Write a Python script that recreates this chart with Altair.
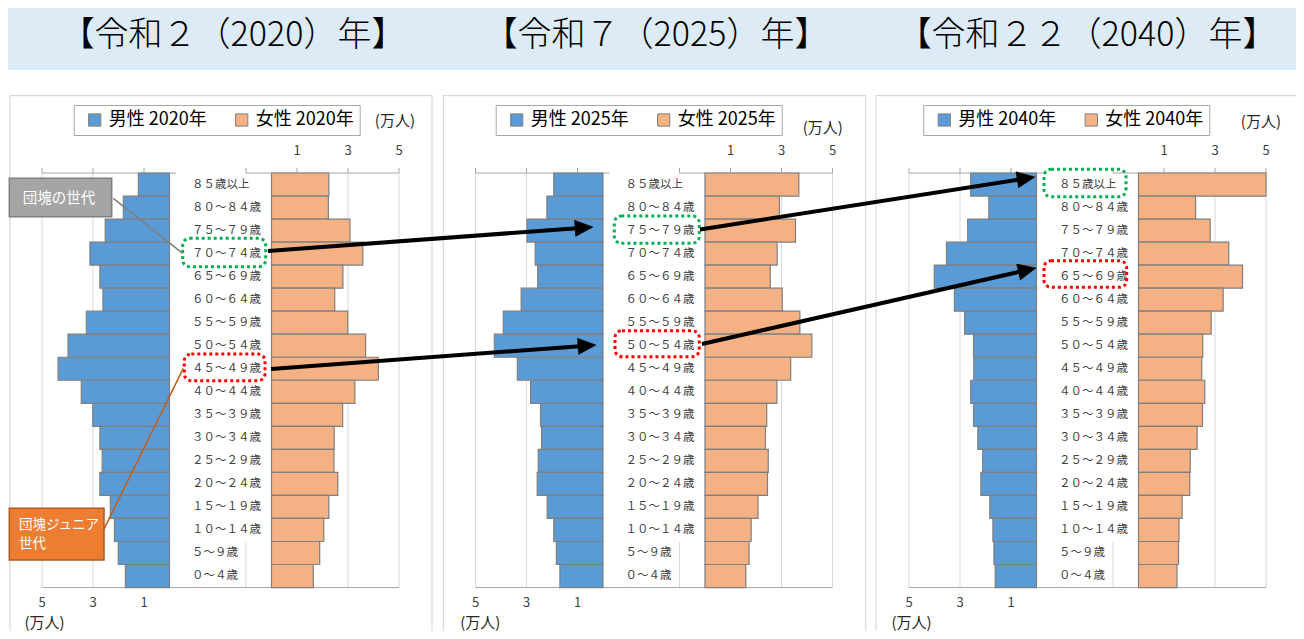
import altair as alt
import pandas as pd
import math

# ---------------- data (万人) ----------------
AGES = ["８５歳以上", "８０～８４歳", "７５～７９歳", "７０～７４歳", "６５～６９歳",
        "６０～６４歳", "５５～５９歳", "５０～５４歳", "４５～４９歳", "４０～４４歳",
        "３５～３９歳", "３０～３４歳", "２５～２９歳", "２０～２４歳", "１５～１９歳",
        "１０～１４歳", "５～９歳", "０～４歳"]
YEARS = ["2020", "2025", "2040"]
TITLES = ["【令和２（2020）年】", "【令和７（2025）年】", "【令和２２（2040）年】"]
MALE_2020 = [1.22, 1.81, 2.52, 3.12, 2.73, 2.61, 3.26, 3.98, 4.37, 3.46, 3.01, 2.73, 2.64, 2.73, 2.32, 2.16, 2.01, 1.73]
FEMALE_2020 = [2.25, 2.23, 3.08, 3.58, 2.80, 2.48, 2.99, 3.69, 4.19, 3.27, 2.79, 2.46, 2.45, 2.60, 2.25, 2.05, 1.89, 1.64]
MALE_2025 = [1.93, 2.20, 2.98, 2.66, 2.56, 3.21, 3.91, 4.26, 3.36, 2.84, 2.45, 2.41, 2.54, 2.58, 2.19, 1.93, 1.83, 1.69]
FEMALE_2025 = [3.68, 2.92, 3.55, 2.83, 2.56, 3.03, 3.72, 4.19, 3.36, 2.82, 2.42, 2.37, 2.48, 2.45, 2.08, 1.81, 1.73, 1.60]
MALE_2040 = [2.58, 1.87, 2.70, 3.53, 4.01, 3.22, 2.82, 2.47, 2.46, 2.58, 2.47, 2.30, 2.11, 2.18, 1.83, 1.71, 1.67, 1.62]
FEMALE_2040 = [5.00, 2.24, 2.81, 3.54, 4.08, 3.32, 2.85, 2.52, 2.48, 2.60, 2.51, 2.30, 2.03, 2.01, 1.71, 1.59, 1.57, 1.51]
MALES = [MALE_2020, MALE_2025, MALE_2040]
FEMALES = [FEMALE_2020, FEMALE_2025, FEMALE_2040]
TOP_TICK_LABELS = ["1", "3", "5"]
BOTTOM_TICK_LABELS = ["5", "3", "1"]

# ---------------- layout (scale space) ----------------
FONT = "Noto Sans CJK JP"
BLUE, ORANGE = "#5B9BD5", "#F4B183"
GAP = 4          # gap (units) between male zero and female zero
PANEL_STEP = 17  # units between panels
PX_PER_UNIT, ZERO_PX = 25.5, 169.5
ROW_PX, ROW0_PX = 23.03, 173.0
W, H = 1288, 623


def ux(px):
    return (px - ZERO_PX) / PX_PER_UNIT


def ry(py):
    return (py - ROW0_PX) / ROW_PX


XS = alt.Scale(domain=[ux(8), ux(8 + W)], nice=False, zero=False)
YS = alt.Scale(domain=[ry(8), ry(8 + H)], nice=False, zero=False, reverse=True)
NROW = len(AGES)


def enc_rect(ch, x="x0", x2="x1", y="y0", y2="y1"):
    return ch.encode(x=alt.X(f"{x}:Q", scale=XS, axis=None), x2=f"{x2}:Q",
                     y=alt.Y(f"{y}:Q", scale=YS, axis=None), y2=f"{y2}:Q")


def enc_pt(ch, x="x", y="y"):
    return ch.encode(x=alt.X(f"{x}:Q", scale=XS, axis=None),
                     y=alt.Y(f"{y}:Q", scale=YS, axis=None))


layers = []

# header band and titles
hdr = pd.DataFrame([{"x0": ux(8), "x1": ux(1300), "y0": ry(8), "y1": ry(70)}])
layers.append(enc_rect(alt.Chart(hdr).mark_rect(fill="#DDEBF7")))
title_x = [233, 656, 1087]
tdf = pd.DataFrame({"x": [ux(v) for v in title_x], "y": [ry(36)] * 3, "t": TITLES})
layers.append(enc_pt(alt.Chart(tdf).mark_text(font=FONT, fontSize=34, fontWeight=300, color="#000000",
                                               align="center", baseline="middle")).encode(text="t:N"))

# panel borders
pb = pd.DataFrame([{"x0": ux(a), "x1": ux(b), "y0": ry(95.7), "y1": ry(680)}
                   for a, b in [(10, 432), (443.3, 865.7), (876, 1297.3)]])
layers.append(enc_rect(alt.Chart(pb).mark_rect(fill="white", stroke="#D9D9D9", strokeWidth=1.2)))

# gridlines
grid = []
for p in range(3):
    off = p * PANEL_STEP
    for t in [-5, -3, -1, 1, 3, 5, 7, 9]:
        grid.append({"x0": off + t, "x1": off + t, "y0": 0, "y1": NROW})
layers.append(enc_rect(alt.Chart(pd.DataFrame(grid)).mark_rule(color="#D9D9D9", strokeWidth=1)))

# white label area
wb = []
for p in range(3):
    off = p * PANEL_STEP
    wb.append({"x0": off + 0.05, "x1": off + GAP - 0.05, "y0": -0.05, "y1": NROW - 2})
    wb.append({"x0": off + 0.05, "x1": off + 2.95, "y0": NROW - 2, "y1": NROW - 0.05})
layers.append(enc_rect(alt.Chart(pd.DataFrame(wb)).mark_rect(fill="white")))

# axis lines & ticks
ax = []
for p in range(3):
    off = p * PANEL_STEP
    ax.append({"x0": off - 5, "x1": off + 0.25, "y0": 0, "y1": 0})
    ax.append({"x0": off + 3, "x1": off + 9, "y0": 0, "y1": 0})
    ax.append({"x0": off - 5, "x1": off + 9, "y0": NROW, "y1": NROW})
    for t in [-5, -3, -1, 3, 5, 7, 9]:
        ax.append({"x0": off + t, "x1": off + t, "y0": -0.22, "y1": 0})
layers.append(enc_rect(alt.Chart(pd.DataFrame(ax)).mark_rule(color="#A6A6A6", strokeWidth=1)))

# bars, one layer per panel with its own legend
legend_pos = [(73.7, 105), (495.7, 105), (923.3, 105)]
for p in range(3):
    off = p * PANEL_STEP
    mlab, flab = f"男性 {YEARS[p]}年", f"女性 {YEARS[p]}年"
    rows = []
    for i, age in enumerate(AGES):
        rows.append({"age": age, "series": mlab, "v": MALES[p][i], "row": i})
        rows.append({"age": age, "series": flab, "v": FEMALES[p][i], "row": i})
    df = pd.DataFrame(rows)
    ch = alt.Chart(df).transform_calculate(
        x0=f"indexof(datum.series, '男性') === 0 ? {off} - datum.v : {off + GAP}",
        x1=f"indexof(datum.series, '男性') === 0 ? {off} : {off + GAP} + datum.v",
        y0="datum.row", y1="datum.row + 1",
    ).mark_rect(stroke="#7F7F7F", strokeWidth=1.2)
    ch = enc_rect(ch).encode(
        color=alt.Color("series:N",
                        scale=alt.Scale(domain=[mlab, flab], range=[BLUE, ORANGE]),
                        legend=alt.Legend(orient="none", legendX=legend_pos[p][0] - 8,
                                          legendY=legend_pos[p][1] - 8,
                                          direction="horizontal", title=None,
                                          symbolType="square", symbolSize=150,
                                          symbolStrokeColor="#7F7F7F", symbolStrokeWidth=1,
                                          labelFont=FONT, labelFontSize=18, labelColor="#000000",
                                          labelOffset=5, columnPadding=20, symbolOffset=6,
                                          strokeColor="#A6A6A6", fillColor="white", padding=6)))
    layers.append(ch)

# age labels
al = []
for p in range(3):
    off = p * PANEL_STEP
    for i, age in enumerate(AGES):
        al.append({"x": off + 0.88, "y": i + 0.5, "t": age})
layers.append(enc_pt(alt.Chart(pd.DataFrame(al)).mark_text(
    font=FONT, fontSize=11.5, color="#404040", align="left", baseline="middle")).encode(text="t:N"))

# tick labels
tl = []
for p in range(3):
    off = p * PANEL_STEP
    for t, lab in zip([5, 7, 9], TOP_TICK_LABELS):
        tl.append({"x": off + t, "y": ry(150.5), "t": lab})
    for t, lab in zip([-5, -3, -1], BOTTOM_TICK_LABELS):
        tl.append({"x": off + t, "y": ry(602.5), "t": lab})
layers.append(enc_pt(alt.Chart(pd.DataFrame(tl)).mark_text(
    font=FONT, fontSize=13, color="#404040", align="center", baseline="middle")).encode(text="t:N"))

# unit labels
ul = []
for p, (tx, ty, bx, by) in enumerate([(8.84, 121, -4.9, 623), (8.62, 128, -4.81, 623), (8.8, 122, -4.9, 623)]):
    off = p * PANEL_STEP
    ul.append({"x": off + tx, "y": ry(ty), "t": "(万人)"})
    ul.append({"x": off + bx, "y": ry(by), "t": "(万人)"})
layers.append(enc_pt(alt.Chart(pd.DataFrame(ul)).mark_text(
    font=FONT, fontSize=15, color="#262626", align="center", baseline="middle")).encode(text="t:N"))

# dotted highlight boxes
boxes_g = [(182.7, 265.7, 238.3, 266.7), (614.3, 699.3, 216, 243.3), (1044, 1126, 169.3, 196.7)]
boxes_r = [(184.3, 265, 354, 380.7), (615, 699.3, 330.7, 356.7), (1044, 1126.7, 260.7, 287.3)]
for boxes, col in [(boxes_g, "#00B050"), (boxes_r, "#FF0000")]:
    bdf = pd.DataFrame([{"x0": ux(a), "x1": ux(b), "y0": ry(c), "y1": ry(d)} for a, b, c, d in boxes])
    layers.append(enc_rect(alt.Chart(bdf).mark_rect(fillOpacity=0, stroke=col, strokeWidth=3,
                                                    strokeDash=[3, 3], cornerRadius=7)))

# callouts
con = pd.DataFrame([{"x0": ux(113.3), "y0": ry(198.3), "x1": ux(182.7), "y1": ry(253.3)}])
layers.append(enc_rect(alt.Chart(con).mark_rule(color="#7F7F7F", strokeWidth=1.5)))
con2 = pd.DataFrame([{"x0": ux(102.7), "y0": ry(531.7), "x1": ux(183.3), "y1": ry(368.3)}])
layers.append(enc_rect(alt.Chart(con2).mark_rule(color="#C55A11", strokeWidth=1.5)))
cg = pd.DataFrame([{"x0": ux(9.3), "x1": ux(111.7), "y0": ry(178.3), "y1": ry(216.7)}])
layers.append(enc_rect(alt.Chart(cg).mark_rect(fill="#A5A5A5", stroke="#7F7F7F", strokeWidth=1.5)))
co = pd.DataFrame([{"x0": ux(9.3), "x1": ux(104), "y0": ry(508.3), "y1": ry(560)}])
layers.append(enc_rect(alt.Chart(co).mark_rect(fill="#ED7D31", stroke="#AE5A21", strokeWidth=1.5)))
ct = pd.DataFrame([{"x": ux(59), "y": ry(198.5), "t": "団塊の世代"}])
layers.append(enc_pt(alt.Chart(ct).mark_text(font=FONT, fontSize=14.5, color="white",
                                             align="center", baseline="middle")).encode(text="t:N"))
ct2 = pd.DataFrame([{"x": ux(19), "y": ry(525), "t": "団塊ジュニア"},
                    {"x": ux(19), "y": ry(544), "t": "世代"}])
layers.append(enc_pt(alt.Chart(ct2).mark_text(font=FONT, fontSize=13.5, color="white",
                                              align="left", baseline="middle")).encode(text="t:N"))

# arrows
arrows = [((268, 251), (593, 227)), ((271, 369), (596, 345)),
          ((700, 229.5), (1035, 177)), ((702, 344), (1036, 268))]
HEAD = 18
lines, heads = [], []
for (sx, sy), (tx, ty) in arrows:
    dx, dy = tx - sx, ty - sy
    L = math.hypot(dx, dy)
    cx, cy = tx - dx / L * HEAD / 2, ty - dy / L * HEAD / 2
    lines.append({"x0": ux(sx), "y0": ry(sy), "x1": ux(cx), "y1": ry(cy)})
    heads.append({"x": ux(cx), "y": ry(cy), "ang": math.degrees(math.atan2(dy, dx)) % 360})
layers.append(enc_rect(alt.Chart(pd.DataFrame(lines)).mark_rule(color="black", strokeWidth=4)))
layers.append(enc_pt(alt.Chart(pd.DataFrame(heads)).mark_point(
    shape="M-1,-0.9L1,0L-1,0.9Z", filled=True, fill="black", stroke="black", strokeWidth=0.5,
    size=HEAD * HEAD, opacity=1)).encode(angle=alt.Angle("ang:Q", scale=None)))

chart = alt.layer(*layers).resolve_scale(color="independent").properties(
    width=W, height=H, padding=0, autosize=alt.AutoSizeParams(type="none"),
    background="white").configure_view(stroke=None)

chart.save("out.html", embed_options={"renderer": "svg", "actions": False})
